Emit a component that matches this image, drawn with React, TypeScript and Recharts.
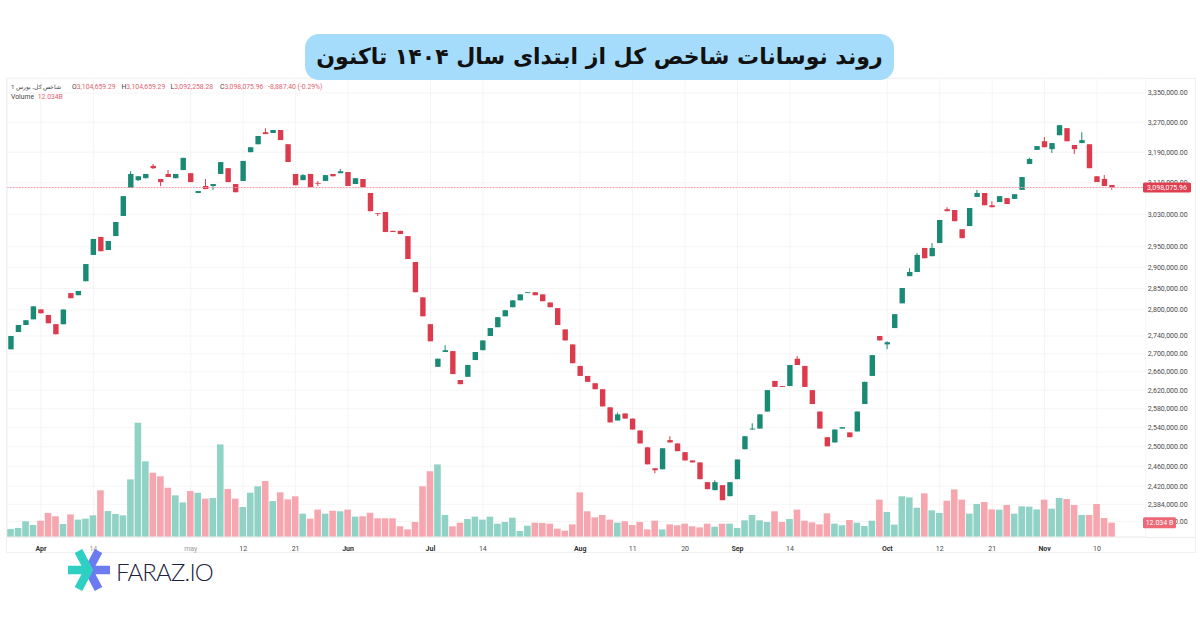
import { Bar, CartesianGrid, ComposedChart, Rectangle, ReferenceLine, XAxis, YAxis } from "recharts";

// prices are in thousands, volume in billions
const opens = [
  2710, 2749, 2765, 2778, 2801, 2788, 2767, 2767, 2839, 2834,
  2867, 2930, 2974, 2942, 2976, 3026, 3097, 3117, 3122, 3154,
  3120, 3133, 3122, 3143, 3135, 3084, 3102, 3102, 3133, 3148,
  3107, 3115, 3190, 3211, 3243, 3241, 3249, 3211, 3133, 3117,
  3133, 3109, 3115, 3133, 3135, 3138, 3107, 3120, 3084, 3033,
  3036, 2989, 2989, 2976, 2913, 2829, 2767, 2671, 2704, 2706,
  2642, 2649, 2686, 2708, 2740, 2760, 2785, 2806, 2822, 2839,
  2841, 2836, 2817, 2804, 2755, 2721, 2673, 2651, 2635, 2622,
  2583, 2555, 2570, 2559, 2534, 2499, 2456, 2454, 2514, 2507,
  2489, 2472, 2468, 2428, 2412, 2422, 2400, 2434, 2495, 2536,
  2538, 2574, 2640, 2629, 2629, 2689, 2673, 2620, 2574, 2520,
  2509, 2538, 2530, 2532, 2590, 2651, 2740, 2721, 2758, 2815,
  2879, 2889, 2947, 2927, 2959, 3043, 3041, 2993, 3001, 3074,
  3084, 3053, 3061, 3071, 3069, 3092, 3159, 3196, 3219, 3198,
  3235, 3254, 3209, 3214, 3211, 3127, 3120, 3104.659,
];
const closes = [
  2740, 2765, 2776, 2808, 2792, 2769, 2744, 2801, 2827, 2844,
  2908, 2969, 2939, 2964, 3011, 3076, 3133, 3127, 3133, 3148,
  3112, 3125, 3133, 3175, 3112, 3089, 3094, 3107, 3164, 3112,
  3086, 3167, 3203, 3233, 3238, 3249, 3222, 3164, 3104, 3130,
  3099, 3107, 3130, 3127, 3140, 3102, 3122, 3099, 3038, 3031,
  2986, 2986, 2981, 2920, 2841, 2785, 2728, 2689, 2708, 2655,
  2633, 2675, 2704, 2730, 2758, 2783, 2799, 2822, 2836, 2841,
  2834, 2820, 2806, 2765, 2730, 2679, 2651, 2638, 2622, 2585,
  2551, 2568, 2559, 2536, 2507, 2464, 2452, 2497, 2509, 2491,
  2472, 2468, 2434, 2414, 2428, 2392, 2428, 2474, 2522, 2538,
  2568, 2620, 2627, 2627, 2675, 2675, 2627, 2590, 2538, 2501,
  2536, 2541, 2520, 2574, 2638, 2697, 2730, 2726, 2790, 2851,
  2889, 2930, 2922, 2947, 3016, 3038, 3013, 2971, 3046, 3084,
  3053, 3048, 3076, 3056, 3081, 3125, 3172, 3206, 3203, 3214,
  3262, 3219, 3198, 3222, 3148, 3112, 3102, 3098.076,
];
const highs = [
  2740, 2765, 2776, 2808, 2801, 2788, 2767, 2801, 2839, 2844,
  2908, 2969, 2974, 2964, 3011, 3076, 3140, 3127, 3133, 3159,
  3120, 3143, 3133, 3175, 3135, 3089, 3120, 3107, 3164, 3148,
  3107, 3167, 3203, 3233, 3254, 3249, 3249, 3211, 3133, 3133,
  3133, 3115, 3130, 3133, 3146, 3138, 3122, 3120, 3084, 3033,
  3036, 2989, 2989, 2976, 2913, 2829, 2767, 2689, 2719, 2706,
  2642, 2675, 2704, 2730, 2758, 2783, 2799, 2822, 2836, 2841,
  2841, 2836, 2817, 2804, 2755, 2721, 2673, 2651, 2635, 2622,
  2583, 2572, 2570, 2559, 2534, 2499, 2456, 2497, 2522, 2507,
  2489, 2472, 2468, 2428, 2432, 2422, 2428, 2474, 2522, 2549,
  2568, 2620, 2640, 2629, 2675, 2695, 2673, 2620, 2574, 2520,
  2536, 2541, 2530, 2574, 2638, 2697, 2740, 2728, 2790, 2851,
  2898, 2935, 2947, 2959, 3016, 3048, 3041, 2993, 3046, 3092,
  3084, 3063, 3076, 3071, 3081, 3125, 3175, 3206, 3230, 3214,
  3262, 3254, 3209, 3243, 3211, 3127, 3130, 3104.659,
];
const lows = [
  2710, 2749, 2765, 2778, 2792, 2769, 2744, 2767, 2827, 2834,
  2867, 2930, 2939, 2942, 2976, 3026, 3097, 3115, 3122, 3146,
  3102, 3125, 3122, 3143, 3112, 3084, 3094, 3092, 3133, 3112,
  3086, 3115, 3190, 3211, 3238, 3241, 3222, 3164, 3104, 3117,
  3099, 3102, 3115, 3127, 3135, 3102, 3107, 3099, 3038, 3026,
  2986, 2986, 2981, 2920, 2841, 2785, 2728, 2671, 2704, 2655,
  2633, 2649, 2686, 2708, 2740, 2760, 2785, 2806, 2822, 2839,
  2834, 2820, 2806, 2765, 2730, 2679, 2651, 2638, 2622, 2585,
  2551, 2555, 2559, 2536, 2507, 2464, 2446, 2454, 2509, 2491,
  2472, 2468, 2434, 2414, 2412, 2392, 2400, 2434, 2495, 2536,
  2538, 2574, 2627, 2627, 2629, 2675, 2627, 2590, 2538, 2501,
  2509, 2538, 2520, 2532, 2590, 2651, 2730, 2710, 2758, 2815,
  2879, 2889, 2922, 2927, 2959, 3038, 3013, 2971, 3001, 3074,
  3053, 3048, 3061, 3056, 3069, 3092, 3159, 3196, 3203, 3188,
  3235, 3219, 3185, 3214, 3148, 3112, 3102, 3092.258,
];
const volumes = [
  6.7, 7.6, 13.2, 10.1, 13.7, 20.2, 17.4, 10.9, 19, 14.6,
  15.4, 18.2, 39.2, 21.8, 19.3, 18.2, 48.4, 96, 63.6, 54,
  51, 41.4, 35, 29.1, 38.6, 37.2, 32.2, 32.8, 77.8, 40.3,
  32.2, 25.2, 37.2, 42.6, 47, 30.2, 37.5, 31.6, 34.2, 19.6,
  15.4, 23, 19.6, 22.1, 21.6, 23, 17.1, 17.4, 20.4, 15.7,
  15.7, 15.7, 9, 6.4, 12.6, 42.6, 55.2, 61, 18.5, 9,
  12, 15.1, 17.1, 14.6, 17.1, 11.2, 12.6, 16.2, 5, 9.5,
  12, 11.8, 11.2, 7, 5.3, 10.6, 37.5, 21.6, 16.5, 18.5,
  14.6, 12, 13.2, 10.1, 12.6, 6.4, 13.7, 6.4, 10.6, 9.8,
  11.2, 9, 8.1, 11.2, 8.7, 11.2, 11.2, 7.6, 14, 18.5,
  14, 12.6, 21.6, 12.6, 15.1, 23, 13.7, 12.3, 10.6, 19.9,
  11.2, 9.8, 14.3, 12, 9.2, 13.7, 31.4, 21, 10.4, 34.2,
  33.3, 24.6, 36.7, 22.4, 20.2, 30.5, 40, 31.4, 19.6, 27.7,
  29.4, 23.2, 23, 26.9, 19.6, 25.8, 25.5, 23.2, 31.4, 23.8,
  32.8, 31.9, 26.9, 18.5, 18.5, 27.7, 16, 12.034,
];

const priceTicks = [
  3350, 3270, 3190, 3110, 3030, 2950, 2900, 2850, 2800, 2740, 2700, 2660, 2620, 2580, 2540, 2500, 2460, 2420, 2384,
  2350,
];
const dateTickIndexes = [4, 11, 24, 31, 38, 45, 56, 63, 76, 83, 90, 97, 104, 117, 124, 131, 138, 145];
const dateTickLabels = ["Apr", "14", "may", "12", "21", "Jun", "Jul", "14", "Aug", "11", "20", "Sep", "14", "Oct", "12", "21", "Nov", "10"];
const monthLabels = ["Apr", "Jun", "Jul", "Aug", "Sep", "Oct", "Nov"];
const fadedLabels = ["may"];
const EMPTY_SLOTS = 4; // blank room between last candle and price scale

const LAST_PRICE = 3098.076;
const LAST_VOLUME = 12.034;
const PRICE_DOMAIN = [2320.3, 3391.8];
const VOLUME_DOMAIN = [0, 385.6];

const UP = "#1a8a75";
const DOWN = "#dc3b4d";
const UP_VOL = "#90d2c5";
const DOWN_VOL = "#f6a6ae";

const rows = [...opens, ...Array(EMPTY_SLOTS).fill(null)].map((open, i) => {
  if (open === null) return { i };
  const close = closes[i];
  return {
    i,
    up: close >= open,
    body: [Math.min(open, close), Math.max(open, close)],
    wick: [lows[i], highs[i]],
    volume: volumes[i],
  };
});

const coloredBar = (upColor: string, downColor: string) => (props: any) => (
  <Rectangle {...props} fill={props.payload.up ? upColor : downColor} />
);

function DateTick({ x, y, payload }: any) {
  const label = dateTickLabels[dateTickIndexes.indexOf(payload.value)];
  const month = monthLabels.includes(label);
  const faded = fadedLabels.includes(label) || (label === "14" && payload.value === 11);
  return (
    <text
      x={x}
      y={y + 5.5}
      textAnchor="middle"
      fontSize={7}
      fontWeight={month ? 700 : 400}
      fontFamily="Roboto"
      fill={faded ? "#9a9a9a" : month ? "#333" : "#4a4a4a"}
    >
      {label}
    </text>
  );
}

function ValueTag({ viewBox, text, width, height, fill }: any) {
  const left = viewBox.x + viewBox.width - 2.7;
  return (
    <g>
      <rect x={left} y={viewBox.y - height / 2} width={width} height={height} rx={1.5} fill={fill} />
      <text
        x={left + width / 2}
        y={viewBox.y + 2.5}
        textAnchor="middle"
        fontSize={7}
        fontFamily="Roboto"
        fill="#fff"
      >
        {text}
      </text>
    </g>
  );
}

function Logo() {
  return (
    <svg width={46} height={50} style={{ position: "absolute", left: 66, top: 545 }}>
      <g strokeWidth={8.5} fill="none">
        <path d="M32.5 6 L22.5 25 L32.5 44 M22.5 25 H44" stroke="#6c7cf0" />
        <path d="M12.5 6 L22.5 25 L12.5 44 M2 25 H22" stroke="#2fd0c4" />
      </g>
    </svg>
  );
}

const legendBase = { position: "absolute", fontFamily: "Roboto", fontSize: 6.8, whiteSpace: "nowrap" } as const;

export default function App() {
  return (
    <div style={{ position: "absolute", left: 0, top: 0, width: 1200, height: 630, background: "#fff", overflow: "hidden" }}>
      <div
        style={{
          position: "absolute",
          left: 6,
          top: 78,
          width: 1188,
          height: 473,
          border: "1px solid #f0f0f0",
        }}
      />
      <div style={{ position: "absolute", left: 1145, top: 537, width: 50, height: 1, background: "#ececec" }} />
      <ComposedChart
        width={1200}
        height={630}
        data={rows}
        margin={{ top: 78, right: 4.3, bottom: 78, left: 7.25 }}
        style={{ position: "absolute", left: 0, top: 0 }}
      >
        <CartesianGrid stroke="#f5f5f5" strokeWidth={1} />
        <XAxis
          dataKey="i"
          ticks={dateTickIndexes}
          interval={0}
          height={15}
          tickLine={false}
          axisLine={{ stroke: "#ececec" }}
          tick={<DateTick />}
        />
        <XAxis dataKey="i" xAxisId="wick" hide />
        <XAxis dataKey="i" xAxisId="vol" hide />
        <YAxis
          orientation="right"
          scale="log"
          type="number"
          domain={PRICE_DOMAIN}
          allowDataOverflow
          ticks={priceTicks}
          interval={0}
          width={50}
          axisLine={false}
          tickLine={false}
          tickSize={0}
          tickMargin={2}
          tick={{ fontSize: 7, fontFamily: "Roboto", fill: "#4a4a4a" }}
          tickFormatter={(v: number) => `${v.toLocaleString("en-US")},000.00`}
        />
        <YAxis yAxisId="vol" domain={VOLUME_DOMAIN} hide />
        <Bar
          dataKey="volume"
          xAxisId="vol"
          yAxisId="vol"
          barSize={6.6}
          isAnimationActive={false}
          shape={coloredBar(UP_VOL, DOWN_VOL)}
        />
        <Bar dataKey="wick" xAxisId="wick" barSize={1} isAnimationActive={false} shape={coloredBar(UP, DOWN)} />
        <Bar dataKey="body" barSize={5.4} isAnimationActive={false} shape={coloredBar(UP, DOWN)} />
        <ReferenceLine y={LAST_PRICE} stroke="#f3a0aa" strokeDasharray="2 1" />
      </ComposedChart>

      {/* second chart on top, the value tags have to cover the tick labels */}
      <ComposedChart
        width={1200}
        height={630}
        data={rows}
        margin={{ top: 78, right: 54.3, bottom: 93, left: 7.25 }}
        style={{ position: "absolute", left: 0, top: 0 }}
      >
        <XAxis dataKey="i" hide />
        <YAxis scale="log" type="number" domain={PRICE_DOMAIN} allowDataOverflow hide />
        <YAxis yAxisId="vol" type="number" domain={VOLUME_DOMAIN} allowDataOverflow hide />
        <ReferenceLine
          y={LAST_PRICE}
          stroke="none"
          label={<ValueTag text="3,098,075.96" width={48} height={10} fill="#e03e50" />}
        />
        <ReferenceLine
          y={LAST_VOLUME}
          yAxisId="vol"
          stroke="none"
          label={<ValueTag text="12.034 B" width={33} height={11} fill="#ec6975" />}
        />
      </ComposedChart>

      <div
        style={{
          position: "absolute",
          left: 305,
          top: 34,
          width: 589,
          height: 46,
          borderRadius: 14,
          background: "#a6dcfb",
          color: "#111",
          fontFamily: "DejaVu Sans",
          fontWeight: 700,
          fontSize: 22,
          lineHeight: "46px",
          textAlign: "center",
          direction: "rtl",
          whiteSpace: "nowrap",
        }}
      >
        روند نوسانات شاخص کل از ابتدای سال ۱۴۰۴ تاکنون
      </div>

      <div style={{ ...legendBase, left: 11, top: 83, fontSize: 6.2, color: "#444" }}>شاخص کل, بورس 1</div>
      {[
        ["O", "3,104,659.29", 72],
        ["H", "3,104,659.29", 121.5],
        ["L", "3,092,258.28", 170.5],
        ["C", "3,098,075.96", 220],
      ].map(([letter, value, left]) => (
        <div key={letter as string} style={{ ...legendBase, left: left as number, top: 83, color: "#444" }}>
          {letter}
          <span style={{ color: "#e0636f" }}>{value}</span>
        </div>
      ))}
      <div style={{ ...legendBase, left: 268, top: 83, color: "#e0636f" }}>-8,887.40 (-0.29%)</div>
      <div style={{ ...legendBase, left: 11, top: 93, color: "#444" }}>
        Volume <span style={{ color: "#e0636f", marginLeft: 2 }}>12.034B</span>
      </div>

      <Logo />
      <div
        style={{
          position: "absolute",
          left: 116,
          top: 556,
          fontFamily: "Lato",
          fontWeight: 300,
          fontSize: 24,
          letterSpacing: -0.8,
          lineHeight: "32px",
          color: "#1c2340",
          whiteSpace: "nowrap",
        }}
      >
        FARAZ.IO
      </div>
    </div>
  );
}
